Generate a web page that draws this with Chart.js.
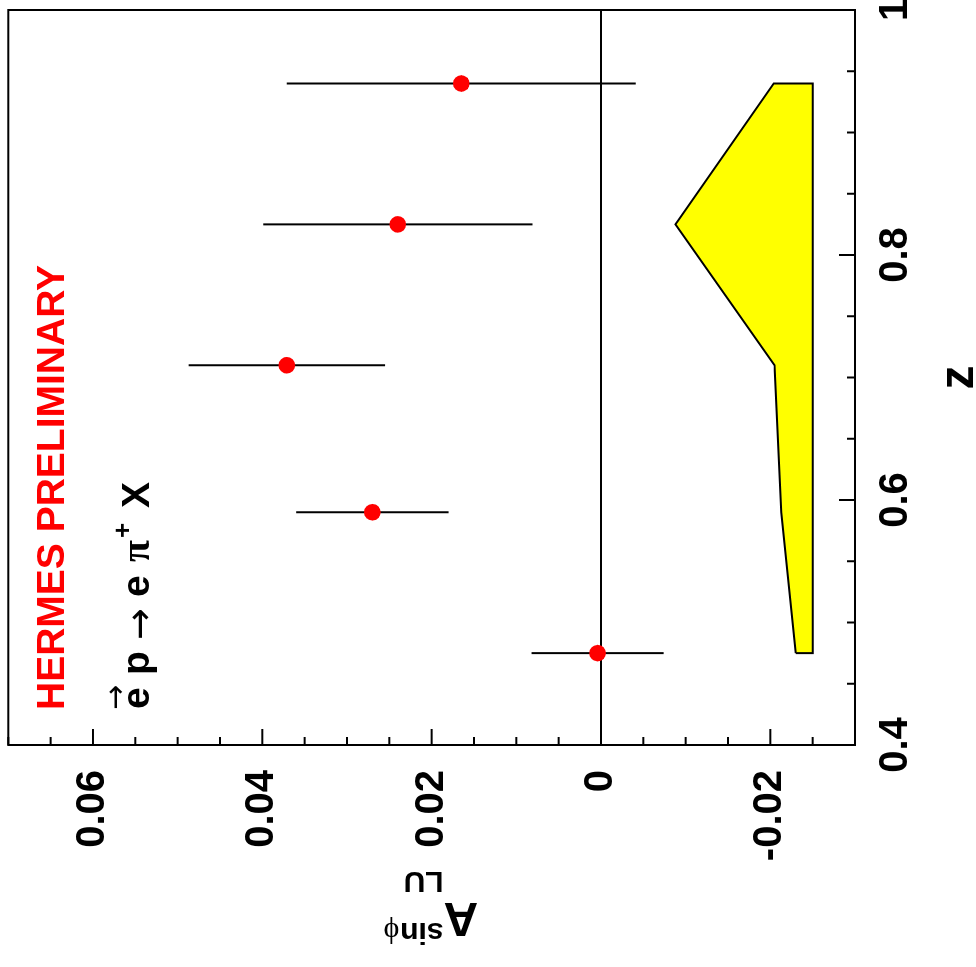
<!DOCTYPE html>
<html>
<head>
<meta charset="utf-8">
<script src="https://cdn.jsdelivr.net/npm/chart.js@4.4.1/dist/chart.umd.min.js"></script>
<style>
html,body{margin:0;padding:0;overflow:hidden;background:#fff;width:976px;height:967px}
#wrap{position:absolute;left:0;top:0;width:967px;height:976px;transform-origin:0 0;transform:translateY(967px) rotate(-90deg);background:#fff}
</style>
</head>
<body>
<div id="wrap"><canvas id="c" width="967" height="976"></canvas></div>
<script>
// ---- data ----
const zValues   = [0.475, 0.590, 0.710, 0.825, 0.940];
const aValues   = [0.0004, 0.0270, 0.0371, 0.0240, 0.0165];
const aErrors   = [0.0078, 0.0090, 0.0116, 0.0159, 0.0206];
// systematic band
const bandZ     = [0.475, 0.590, 0.710, 0.825, 0.940];
const bandUpper = [-0.0230, -0.0213, -0.0205, -0.0088, -0.0204];
const bandLower = [-0.0250, -0.0250, -0.0250, -0.0250, -0.0250];
// axes
const zRange = [0.4, 1.0];
const aRange = [-0.03, 0.07];
const zTicks = [0.4, 0.6, 0.8, 1.0];
const zTickLabels = ['0.4', '0.6', '0.8', '1'];
const aTicks = [-0.02, 0, 0.02, 0.04, 0.06];
const aTickLabels = ['-0.02', '0', '0.02', '0.04', '0.06'];
const zMinorStep = 0.05;
const aMinorStep = 0.005;

const FONT = "'Liberation Sans', Arial, Helvetica, sans-serif";
const ARROWFONT = "'DejaVu Sans', sans-serif";

const pointData = zValues.map((z, i) => ({x: z, y: aValues[i]}));
const bandPoly = bandZ.map((z, i) => ({x: z, y: bandUpper[i]}))
  .concat(bandZ.slice().reverse().map((z, i) => ({x: z, y: bandLower[bandZ.length - 1 - i]})))
  .concat([{x: bandZ[0], y: bandUpper[0]}]);

const decor = {
  id: 'decor',
  beforeDatasetDraw(chart, args) {
    if (args.index !== 0) return;
    const ctx = chart.ctx, xs = chart.scales.x, ys = chart.scales.y, ca = chart.chartArea;
    ctx.save();
    ctx.strokeStyle = '#000';
    ctx.lineWidth = 2;
    // zero line
    const y0 = ys.getPixelForValue(0);
    ctx.beginPath(); ctx.moveTo(ca.left, y0); ctx.lineTo(ca.right, y0); ctx.stroke();
    // error bars
    zValues.forEach((z, i) => {
      const px = xs.getPixelForValue(z);
      ctx.beginPath();
      ctx.moveTo(px, ys.getPixelForValue(aValues[i] - aErrors[i]));
      ctx.lineTo(px, ys.getPixelForValue(aValues[i] + aErrors[i]));
      ctx.stroke();
    });
    ctx.restore();
  },
  afterDraw(chart) {
    const ctx = chart.ctx, xs = chart.scales.x, ys = chart.scales.y, ca = chart.chartArea;
    ctx.save();
    ctx.strokeStyle = '#000';
    ctx.lineWidth = 2;
    ctx.strokeRect(ca.left, ca.top, ca.right - ca.left, ca.bottom - ca.top);
    // z ticks (inward from bottom)
    const nz = Math.round((zRange[1] - zRange[0]) / zMinorStep);
    for (let k = 0; k <= nz; k++) {
      const v = zRange[0] + k * zMinorStep;
      const major = zTicks.some(t => Math.abs(t - v) < 1e-6);
      const px = xs.getPixelForValue(v);
      ctx.beginPath(); ctx.moveTo(px, ca.bottom); ctx.lineTo(px, ca.bottom - (major ? 16 : 8)); ctx.stroke();
    }
    const na = Math.round((aRange[1] - aRange[0]) / aMinorStep);
    for (let k = 0; k <= na; k++) {
      const v = aRange[0] + k * aMinorStep;
      const major = aTicks.some(t => Math.abs(t - v) < 1e-6);
      const py = ys.getPixelForValue(v);
      ctx.beginPath(); ctx.moveTo(ca.left, py); ctx.lineTo(ca.left + (major ? 16 : 8), py); ctx.stroke();
    }
    // axis title z
    ctx.fillStyle = '#000';
    ctx.font = 'bold 48px ' + FONT;
    ctx.textAlign = 'center';
    ctx.textBaseline = 'alphabetic';
    ctx.fillText('z', (ca.left + ca.right) / 2, 973);
    // y-axis title  A_LU^{sin phi}
    ctx.save();
    ctx.translate(64, ys.getPixelForValue(0.0145));
    ctx.rotate(-Math.PI / 2);
    ctx.textAlign = 'left';
    ctx.font = 'bold 48px ' + FONT;
    ctx.fillText('A', 0, 0);
    const wA = ctx.measureText('A').width;
    ctx.font = 'bold 30px ' + FONT;
    ctx.fillText('LU', wA, 31);
    ctx.font = 'bold 30px ' + FONT;
    ctx.fillText('sin', wA, -20);
    const wS = ctx.measureText('sin').width;
    ctx.font = "30px 'Liberation Serif', 'DejaVu Serif', serif";
    ctx.fillText('\u03D5', wA + wS + 1, -20);
    ctx.restore();
    // HERMES PRELIMINARY
    const tx = xs.getPixelForValue(0.431);
    ctx.textAlign = 'left';
    ctx.fillStyle = '#ff0000';
    ctx.font = 'bold 39px ' + FONT;
    ctx.fillText('HERMES PRELIMINARY', tx - 3, ys.getPixelForValue(0.0634));
    // reaction  e(vec) p -> e pi+ X
    const by = ys.getPixelForValue(0.0534);
    ctx.fillStyle = '#000';
    ctx.font = 'bold 39px ' + FONT;
    ctx.fillText('e', tx - 2, by);
    ctx.fillText('p', tx + 32, by);
    ctx.fillText('e', tx + 110, by);
    ctx.fillText('X', tx + 199, by);
    ctx.font = '38px ' + ARROWFONT;
    ctx.fillText('\u2192', tx + 67, by + 3);
    ctx.font = "bold 40px 'Liberation Serif', 'DejaVu Serif', serif";
    ctx.fillText('\u03C0', tx + 145, by);
    ctx.font = 'bold 26px ' + FONT;
    ctx.fillText('+', tx + 169, by - 18);
    ctx.font = '30px ' + ARROWFONT;
    ctx.fillText('\u2192', tx - 3, by - 24);
    ctx.restore();
  }
};

new Chart(document.getElementById('c'), {
  type: 'scatter',
  data: {
    datasets: [
      {
        label: 'A_LU',
        data: pointData,
        backgroundColor: '#ff0000',
        borderWidth: 0,
        pointRadius: 8.3,
        pointStyle: 'circle'
      },
      {
        label: 'syst',
        data: bandPoly,
        showLine: true,
        fill: 'shape',
        backgroundColor: '#ffff00',
        borderColor: '#000',
        borderWidth: 2,
        pointRadius: 0,
        tension: 0
      }
    ]
  },
  options: {
    responsive: false,
    animation: false,
    devicePixelRatio: 1,
    layout: {padding: {top: 7, right: 10, left: 0, bottom: 0}},
    plugins: {legend: {display: false}, tooltip: {enabled: false}},
    scales: {
      x: {
        type: 'linear', min: zRange[0], max: zRange[1],
        grid: {display: false, drawTicks: false},
        border: {display: false},
        afterBuildTicks: s => { s.ticks = zTicks.map(v => ({value: v})); },
        ticks: {
          callback: (v, i) => zTickLabels[i],
          font: {family: FONT, size: 40, weight: 'bold'},
          color: '#000', padding: 17, maxRotation: 0, minRotation: 0, autoSkip: false
        },
        afterFit: s => { s.height = 121; s.paddingLeft = 0; s.paddingRight = 0; }
      },
      y: {
        type: 'linear', min: aRange[0], max: aRange[1],
        grid: {display: false, drawTicks: false},
        border: {display: false},
        afterBuildTicks: s => { s.ticks = aTicks.map(v => ({value: v})); },
        ticks: {
          callback: (v, i) => aTickLabels[i],
          font: {family: FONT, size: 40, weight: 'bold'},
          color: '#000', padding: 25, autoSkip: false
        },
        afterFit: s => { s.width = 222; s.paddingTop = 0; s.paddingBottom = 0; }
      }
    }
  },
  plugins: [decor]
});
</script>
</body>
</html>
